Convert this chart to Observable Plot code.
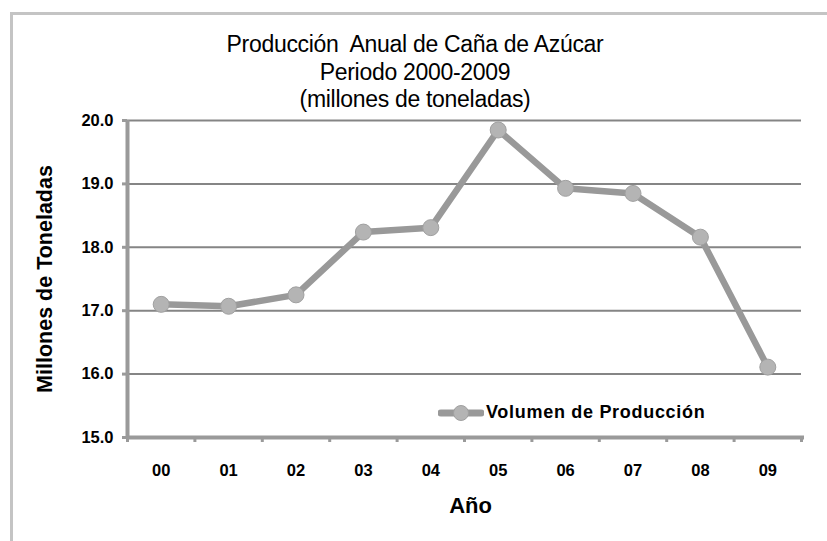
<!DOCTYPE html>
<html>
<head>
<meta charset="utf-8">
<script src="https://cdn.jsdelivr.net/npm/d3@7"></script>
<script src="https://cdn.jsdelivr.net/npm/@observablehq/plot@0.6"></script>
<style>
  html, body { margin: 0; padding: 0; background: #fff; }
  #wrap { position: relative; width: 827px; height: 541px; overflow: hidden; font-family: "Liberation Sans", Arial, sans-serif; }
  #frame { position: absolute; left: 10px; top: 12px; width: 830px; height: 540px; border-top: 3px solid #c4c4c4; border-left: 3px solid #c4c4c4; }
  #title { position: absolute; left: 165px; width: 500px; top: 31px; text-align: center; font-size: 23px; line-height: 27.5px; color: #000; letter-spacing: -0.3px; }
  #legend { position: absolute; left: 438px; top: 402px; display: flex; align-items: center; font-size: 18px; font-weight: bold; color: #000; letter-spacing: 0.7px; }
  #chart { position: absolute; left: 0; top: 0; }
</style>
</head>
<body>
<div id="wrap">
  <div id="frame"></div>
  <div id="chart"></div>
  <div id="title"></div>
  <div id="legend"></div>
</div>
<script>
const titleLines = ["Producción  Anual de Caña de Azúcar", "Periodo 2000-2009", "(millones de toneladas)"];
const years = ["00", "01", "02", "03", "04", "05", "06", "07", "08", "09"];
const production = [17.10, 17.07, 17.25, 18.24, 18.31, 19.85, 18.93, 18.85, 18.16, 16.11];
const yTicks = [15, 16, 17, 18, 19, 20];
const seriesName = "Volumen de Producción";
const yTitle = "Millones de Toneladas";
const xTitle = "Año";

const data = years.map((y, i) => ({i, year: y, value: production[i]}));
const boundaries = d3.range(-0.5, years.length, 1);

const chart = Plot.plot({
  width: 827,
  height: 541,
  marginLeft: 127,
  marginRight: 26,
  marginTop: 120,
  marginBottom: 104,
  style: {fontFamily: "'Liberation Sans', Arial, sans-serif", background: "transparent"},
  x: {type: "linear", domain: [-0.5, years.length - 0.5], axis: null},
  y: {domain: [15, 20], axis: null},
  marks: [
    Plot.ruleY(yTicks.slice(1), {stroke: "#858585", strokeWidth: 2}),
    Plot.axisY({ticks: yTicks, tickSize: 5, tickFormat: () => "", label: null, stroke: "#9a9a9a", strokeWidth: 3}),
    Plot.axisX({ticks: boundaries, tickSize: 5, tickFormat: () => "", label: null, stroke: "#9a9a9a", strokeWidth: 3}),
    Plot.ruleX([-0.5], {stroke: "#9a9a9a", strokeWidth: 4}),
    Plot.ruleY([15], {stroke: "#9a9a9a", strokeWidth: 4, x1: -0.5, x2: years.length - 0.5, insetRight: -3}),
    Plot.text(yTicks, {x: -0.5, y: d => d, text: d => d.toFixed(1), textAnchor: "end", dx: -14, fontSize: 16.5, fontWeight: "bold", fill: "#000"}),
    Plot.text(data, {x: "i", y: 15, text: "year", dy: 33, fontSize: 16.5, fontWeight: "bold", fill: "#000"}),
    Plot.text([yTitle], {frameAnchor: "left", textAnchor: "middle", dx: -82, rotate: -90, text: d => d, fontSize: 21.5, fontWeight: "bold", fill: "#000"}),
    Plot.text([xTitle], {frameAnchor: "bottom", dy: 75, dx: 6, text: d => d, fontSize: 22, fontWeight: "bold", fill: "#000"}),
    Plot.line(data, {x: "i", y: "value", stroke: "#999999", strokeWidth: 6.5, strokeLinejoin: "round"}),
    Plot.dot(data, {x: "i", y: "value", r: 8, fill: "#b4b4b4", stroke: "#a0a0a0", strokeWidth: 1})
  ]
});
document.getElementById("chart").appendChild(chart);

document.getElementById("title").innerHTML = titleLines.map(t => `<div style="white-space:pre">${t}</div>`).join("");

const legend = document.getElementById("legend");
legend.innerHTML = `<svg width="46" height="20" style="margin-right:2px"><line x1="3" y1="10" x2="43" y2="10" stroke="#999" stroke-width="7" stroke-linecap="round"/><circle cx="23" cy="10" r="7.5" fill="#b4b4b4" stroke="#a0a0a0"/></svg><span>${seriesName}</span>`;
</script>
</body>
</html>
